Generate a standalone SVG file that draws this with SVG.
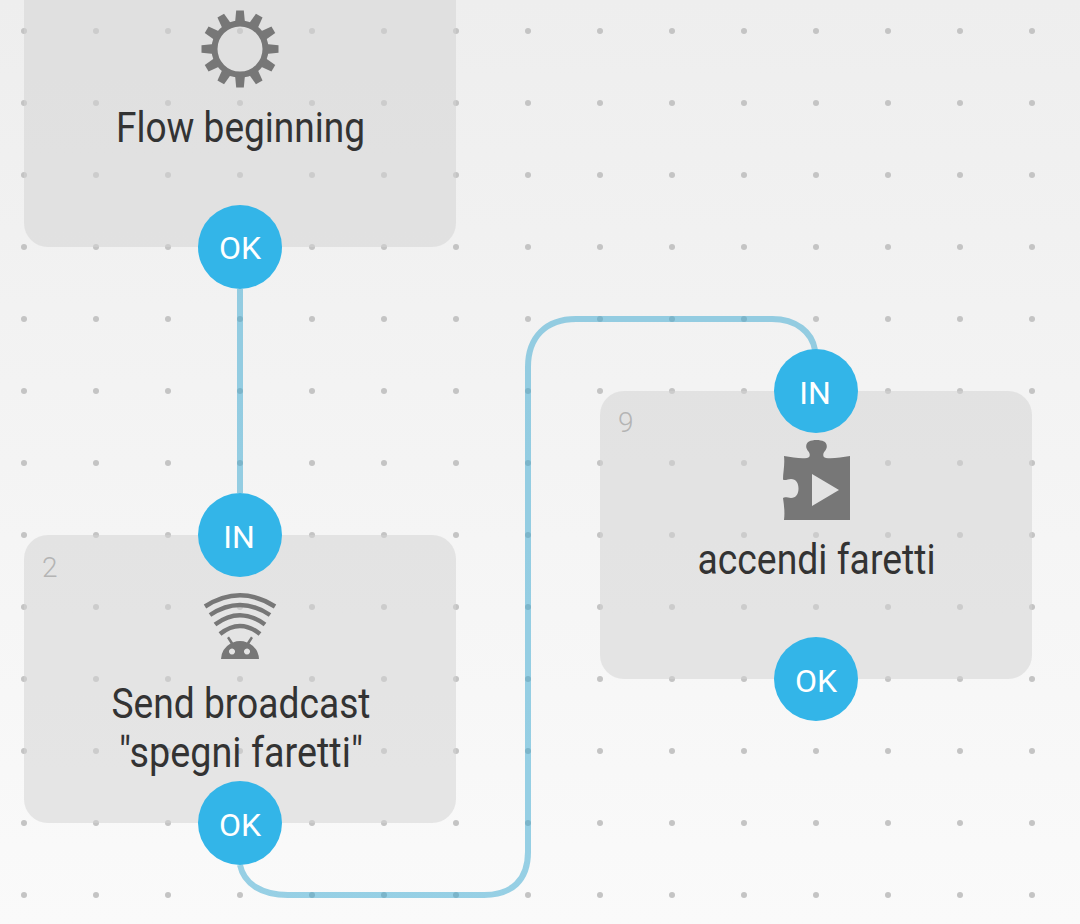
<svg xmlns="http://www.w3.org/2000/svg" width="1080" height="924" viewBox="0 0 1080 924">
<defs>
<linearGradient id="bg" x1="0" y1="0" x2="0" y2="1"><stop offset="0" stop-color="#eeeeee"/><stop offset="1" stop-color="#fafafa"/></linearGradient>
<pattern id="dots" x="24" y="31" width="72" height="72" patternUnits="userSpaceOnUse"><circle cx="0" cy="0" r="3" fill="#c4c4c4"/><circle cx="72" cy="0" r="3" fill="#c4c4c4"/><circle cx="0" cy="72" r="3" fill="#c4c4c4"/><circle cx="72" cy="72" r="3" fill="#c4c4c4"/></pattern>
<path id="tooth" d="M-5 -26L-3.800 -38.500H3.800L5 -26Z" fill="#777"/>
</defs>
<style>
.box{fill:#d3d3d3;fill-opacity:.52}
.port{fill:#33b5e8}
.pt{font-family:Roboto,"Liberation Sans",sans-serif;font-size:32px;font-weight:400;fill:#fff;text-anchor:middle}
.lb{font-family:Roboto,"Liberation Sans",sans-serif;font-size:42px;fill:#333;text-anchor:middle}
.num{font-family:Roboto,"Liberation Sans",sans-serif;font-size:28px;font-weight:300;fill:#b4b4b4}
.ic{fill:#777}
.wave{fill:none;stroke:#777;stroke-width:4.500}
.cn{fill:none;stroke:#33a5d0;stroke-opacity:.5;stroke-width:6}
</style>
<rect width="1080" height="924" fill="url(#bg)"/>
<rect width="1080" height="924" fill="url(#dots)"/>
<g id="connectors">
<path class="cn" d="M240 289V493"/>
<path class="cn" d="M240 865C244 884 262 895 288 895H484C512 895 528 880 528 852V367C528 337 546 319 576 319H772C796 319 812 332 815 350"/>
</g>
<g id="node-1">
<path class="box" d="M24 0H456V223a24 24 0 0 1-24 24H48a24 24 0 0 1-24-24Z"/>
<g transform="translate(240 49)"><circle r="25.500" fill="none" stroke="#777" stroke-width="6"/>
<use href="#tooth"/><use href="#tooth" transform="rotate(30)"/><use href="#tooth" transform="rotate(60)"/><use href="#tooth" transform="rotate(90)"/><use href="#tooth" transform="rotate(120)"/><use href="#tooth" transform="rotate(150)"/><use href="#tooth" transform="rotate(180)"/><use href="#tooth" transform="rotate(210)"/><use href="#tooth" transform="rotate(240)"/><use href="#tooth" transform="rotate(270)"/><use href="#tooth" transform="rotate(300)"/><use href="#tooth" transform="rotate(330)"/></g>
<text class="lb" x="240.500" y="142" textLength="249" lengthAdjust="spacingAndGlyphs">Flow beginning</text>
<circle class="port" cx="240" cy="247" r="42"/>
<text class="pt" x="240" y="259">OK</text>
</g>
<g id="node-2">
<rect class="box" x="24" y="535" width="432" height="288" rx="24"/>
<text class="num" x="42" y="577">2</text>
<path class="wave" d="M205 606.500Q240 584 275 606.500"/>
<path class="wave" d="M210 615Q240 595 270 615"/>
<path class="wave" d="M215 624.500Q240 606 265 624.500"/>
<path class="wave" d="M220 634Q240 618 260 634"/>
<path class="ic" fill-rule="evenodd" d="M221 659A19 19 0 0 1 230.500 643.500L227 638 229 636.500 233 642.500A19 19 0 0 1 247 642.500L251 636.500 253 638 249.500 643.500A19 19 0 0 1 259 659ZM232 648.500a3 3 0 1 0 .01 0ZM247 648.500a3 3 0 1 0 .01 0Z"/>
<text class="lb" x="241" y="718" textLength="259" lengthAdjust="spacingAndGlyphs">Send broadcast</text>
<text class="lb" x="241" y="767" textLength="244" lengthAdjust="spacingAndGlyphs">"spegni faretti"</text>
<circle class="port" cx="240" cy="535" r="42"/>
<text class="pt" x="239" y="547.500">IN</text>
<circle class="port" cx="240" cy="823" r="42"/>
<text class="pt" x="240" y="835.500">OK</text>
</g>
<g id="node-9">
<rect class="box" x="600" y="391" width="432" height="288" rx="24"/>
<text class="num" x="618" y="432">9</text>
<path class="ic" fill-rule="evenodd" d="M784 456C792 457 800 459 807 458C811 457 810 453 808 451C805 447 806 443 809 441.500C813 439.500 820 439.500 824 441.500C827 443 828 447 825 451C823 453 822 457 826 458C833 459 842 457 850 456V520H784C785 512 784 505 783 498C785 496.500 788 498 791 498C796 498 798.500 494 798.500 488.500C798.500 483 796 479 791 479C788 479 785 481 783 479.500C783 472 785 465 784 456ZM812 474V506L839 490Z"/>
<circle class="port" cx="816" cy="391" r="42"/>
<text class="pt" x="815" y="403.500">IN</text>
<text class="lb" x="816.500" y="574" textLength="238" lengthAdjust="spacingAndGlyphs">accendi faretti</text>
<circle class="port" cx="816" cy="679" r="42"/>
<text class="pt" x="816" y="691.500">OK</text>
</g>
</svg>
